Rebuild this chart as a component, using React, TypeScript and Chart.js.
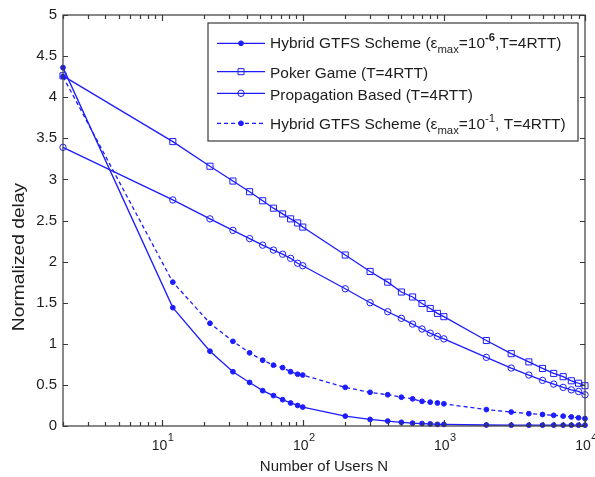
import React, { useEffect, useRef } from 'react';
import { Chart, registerables } from 'chart.js';

Chart.register(...registerables);

// ---------------- data ----------------
const usersN = [2, 12, 22, 32, 42, 52, 62, 72, 82, 92, 100, 200, 300, 400, 500, 600, 700, 800, 900, 1000, 2000, 3000, 4000, 5000, 6000, 7000, 8000, 9000, 10000];

const hybridTight = [4.36, 1.44, 0.91, 0.66, 0.53, 0.43, 0.37, 0.32, 0.28, 0.25, 0.23, 0.12, 0.08, 0.06, 0.045, 0.035, 0.03, 0.025, 0.02, 0.02, 0.012, 0.01, 0.01, 0.01, 0.01, 0.01, 0.01, 0.01, 0.01];
const pokerGame = [4.26, 3.46, 3.16, 2.98, 2.85, 2.74, 2.65, 2.58, 2.52, 2.47, 2.42, 2.08, 1.88, 1.75, 1.63, 1.57, 1.49, 1.43, 1.37, 1.33, 1.04, 0.88, 0.78, 0.70, 0.64, 0.60, 0.55, 0.52, 0.49];
const propagationBased = [3.39, 2.75, 2.52, 2.38, 2.28, 2.20, 2.14, 2.09, 2.04, 1.98, 1.95, 1.67, 1.50, 1.39, 1.31, 1.24, 1.18, 1.13, 1.09, 1.06, 0.835, 0.705, 0.62, 0.555, 0.51, 0.47, 0.44, 0.42, 0.38];
const hybridLoose = [4.25, 1.75, 1.25, 1.03, 0.89, 0.80, 0.74, 0.71, 0.66, 0.63, 0.62, 0.47, 0.41, 0.38, 0.35, 0.33, 0.30, 0.29, 0.28, 0.27, 0.20, 0.17, 0.15, 0.14, 0.13, 0.12, 0.11, 0.10, 0.09];

const seriesNames = [
  'Hybrid GTFS Scheme (εmax=10^-6,T=4RTT)',
  'Poker Game (T=4RTT)',
  'Propagation Based (T=4RTT)',
  'Hybrid GTFS Scheme (εmax=10^-1, T=4RTT)',
];

const xMajorTicks = [10, 100, 1000, 10000];
const xTickExponents = ['1', '2', '3', '4'];
const xTitle = 'Number of Users N';
const yTitle = 'Normalized delay';

type Seg = { t: string; dy: number; size: number; bold?: boolean };
const legendRows: Seg[][] = [
  [
    { t: 'Hybrid GTFS Scheme (ε', dy: 0, size: 15 },
    { t: 'max', dy: 5, size: 11 },
    { t: '=10', dy: 0, size: 15 },
    { t: '-6', dy: -7, size: 11, bold: true },
    { t: ',T=4RTT)', dy: 0, size: 15 },
  ],
  [{ t: 'Poker Game (T=4RTT)', dy: 0, size: 15 }],
  [{ t: 'Propagation Based (T=4RTT)', dy: 0, size: 15 }],
  [
    { t: 'Hybrid GTFS Scheme (ε', dy: 0, size: 15 },
    { t: 'max', dy: 5, size: 11 },
    { t: '=10', dy: 0, size: 15 },
    { t: '-1', dy: -7, size: 11 },
    { t: ', T=4RTT)', dy: 0, size: 15 },
  ],
];

// ---------------- style ----------------
const BLUE = 'rgb(28,28,255)';
const FONT = '"Liberation Sans", Arial, Helvetica, sans-serif';
const AXIS = '#3a3a3a';
const TEXT = '#1e1e1e';

function drawRich(ctx: CanvasRenderingContext2D, segs: Seg[], x: number, baseline: number, sx: number) {
  let cx = x;
  ctx.textAlign = 'left';
  ctx.textBaseline = 'alphabetic';
  for (const s of segs) {
    ctx.font = `${s.bold ? 'bold ' : ''}${s.size}px ${FONT}`;
    const w = ctx.measureText(s.t).width * sx;
    ctx.save();
    ctx.translate(cx, baseline + s.dy);
    ctx.scale(sx, 1);
    ctx.fillText(s.t, 0, 0);
    ctx.restore();
    cx += w;
  }
}

function drawMarker(ctx: CanvasRenderingContext2D, kind: string, x: number, y: number) {
  ctx.save();
  ctx.strokeStyle = BLUE;
  ctx.fillStyle = BLUE;
  ctx.lineWidth = 1;
  ctx.beginPath();
  if (kind === 'dot') {
    ctx.arc(x, y, 2.4, 0, Math.PI * 2);
    ctx.fill();
    ctx.stroke();
  } else if (kind === 'square') {
    ctx.rect(x - 3, y - 3, 6, 6);
    ctx.stroke();
  } else {
    ctx.arc(x, y, 3.2, 0, Math.PI * 2);
    ctx.stroke();
  }
  ctx.restore();
}

const legendKinds = ['dot', 'square', 'circle', 'dot'];
const legendDashed = [false, false, false, true];
const legendLineY = [43.3, 71.7, 93.3, 123.3];
const legendTextY = [48, 78, 100, 129];

const frame = {
  id: 'matlabFrame',
  afterDraw(chart: any) {
    const { ctx, chartArea: a, scales } = chart;
    const xs = scales.x;
    const ys = scales.y;
    ctx.save();

    // axis box
    ctx.strokeStyle = AXIS;
    ctx.lineWidth = 1.2;
    ctx.strokeRect(a.left, a.top, a.right - a.left, a.bottom - a.top);

    // y ticks (inward, both sides)
    ctx.beginPath();
    ys.ticks.forEach((t: any) => {
      const y = Math.round(ys.getPixelForValue(t.value)) + 0.5;
      ctx.moveTo(a.left, y);
      ctx.lineTo(a.left + 5, y);
      ctx.moveTo(a.right, y);
      ctx.lineTo(a.right - 5, y);
    });
    // x ticks (log, major+minor, inward, top and bottom)
    for (let e = 0; e < 5; e++) {
      for (let m = 1; m <= 9; m++) {
        const n = m * Math.pow(10, e);
        if (n < 2 || n > 10000) continue;
        const x = Math.round(xs.getPixelForValue(n)) + 0.5;
        const len = m === 1 ? 6 : 4;
        ctx.moveTo(x, a.bottom);
        ctx.lineTo(x, a.bottom - len);
        ctx.moveTo(x, a.top);
        ctx.lineTo(x, a.top + len);
      }
    }
    ctx.stroke();

    // x tick labels 10^k
    ctx.fillStyle = TEXT;
    ctx.textAlign = 'left';
    ctx.textBaseline = 'alphabetic';
    xMajorTicks.forEach((n, i) => {
      const px = xs.getPixelForValue(n);
      ctx.font = `14px ${FONT}`;
      const wb = ctx.measureText('10').width;
      ctx.font = `11px ${FONT}`;
      const we = ctx.measureText(xTickExponents[i]).width;
      const start = px - (wb + we) / 2 + 1;
      ctx.font = `14px ${FONT}`;
      ctx.fillText('10', start, 450);
      ctx.font = `11px ${FONT}`;
      ctx.fillText(xTickExponents[i], start + wb + 0.5, 441);
    });

    // x title
    ctx.font = `15px ${FONT}`;
    ctx.textAlign = 'center';
    ctx.fillText(xTitle, (a.left + a.right) / 2, 471);

    // y title
    ctx.save();
    ctx.translate(20, 257);
    ctx.rotate(-Math.PI / 2);
    ctx.scale(1.2, 1);
    ctx.font = `16px ${FONT}`;
    ctx.textAlign = 'center';
    ctx.textBaseline = 'middle';
    ctx.fillText(yTitle, 0, 0);
    ctx.restore();

    // legend
    const L = 208, T = 23, R = 578, B = 141;
    ctx.fillStyle = '#ffffff';
    ctx.fillRect(L, T, R - L, B - T);
    ctx.strokeStyle = AXIS;
    ctx.lineWidth = 1.2;
    ctx.strokeRect(L, T, R - L, B - T);
    legendRows.forEach((row, i) => {
      const ly = legendLineY[i];
      ctx.save();
      ctx.strokeStyle = BLUE;
      ctx.lineWidth = 1.3;
      ctx.setLineDash(legendDashed[i] ? [4, 3] : []);
      ctx.beginPath();
      ctx.moveTo(217, ly);
      ctx.lineTo(265, ly);
      ctx.stroke();
      ctx.restore();
      drawMarker(ctx, legendKinds[i], 241, ly);
      ctx.fillStyle = TEXT;
      drawRich(ctx, row, 270, legendTextY[i], 1.03);
    });

    ctx.restore();
  },
};

function series(label: string, values: number[], extra: any) {
  return {
    label,
    data: usersN.map((n, i) => ({ x: n, y: values[i] })),
    borderColor: BLUE,
    backgroundColor: BLUE,
    borderWidth: 1.3,
    tension: 0,
    clip: false,
    pointBorderColor: BLUE,
    pointBorderWidth: 1,
    ...extra,
  };
}

export default function App() {
  const ref = useRef<HTMLCanvasElement>(null);
  useEffect(() => {
    document.body.style.margin = '0';
    const chart = new Chart(ref.current as HTMLCanvasElement, {
      type: 'line',
      data: {
        datasets: [
          series(seriesNames[0], hybridTight, { pointStyle: 'circle', pointRadius: 2.4, pointBackgroundColor: BLUE }),
          series(seriesNames[1], pokerGame, { pointStyle: 'rect', pointRadius: 4.3, pointBackgroundColor: 'rgba(255,255,255,0)' }),
          series(seriesNames[2], propagationBased, { pointStyle: 'circle', pointRadius: 3.2, pointBackgroundColor: 'rgba(255,255,255,0)' }),
          series(seriesNames[3], hybridLoose, { pointStyle: 'circle', pointRadius: 2.4, pointBackgroundColor: BLUE, borderDash: [4, 3] }),
        ],
      } as any,
      options: {
        responsive: false,
        animation: false,
        events: [],
        layout: { padding: { left: 0, right: 10, top: 15, bottom: 0 } },
        plugins: { legend: { display: false }, tooltip: { enabled: false } },
        scales: {
          x: {
            type: 'logarithmic',
            min: 2,
            max: 10000,
            ticks: { display: false },
            grid: { display: false, drawTicks: false },
            border: { display: false },
            afterFit: (s: any) => { s.height = 51; },
          },
          y: {
            min: 0,
            max: 5,
            ticks: {
              stepSize: 0.5,
              callback: (v: any) => String(Number(v)),
              font: { size: 15, family: FONT },
              color: TEXT,
              padding: 6,
            },
            grid: { display: false, drawTicks: false },
            border: { display: false },
            afterFit: (s: any) => { s.width = 63; },
          },
        },
      } as any,
      plugins: [frame],
    });
    return () => chart.destroy();
  }, []);
  return (
    <div style={{ width: 595, height: 477 }}>
      <canvas ref={ref} width={595} height={477} style={{ display: 'block' }} />
    </div>
  );
}
